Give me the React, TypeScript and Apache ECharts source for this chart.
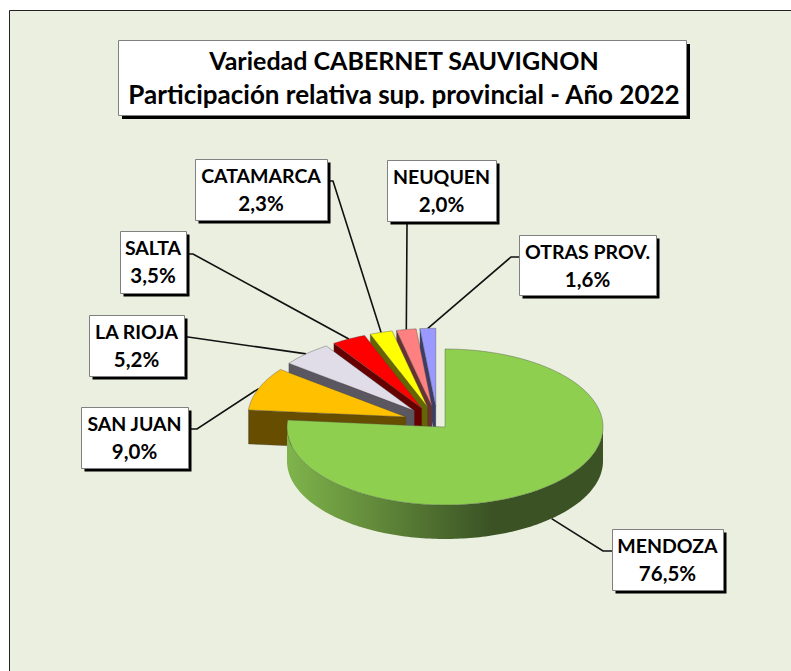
import React, { useEffect, useRef } from "react";
import * as echarts from "echarts";

const provinces = ["MENDOZA", "SAN JUAN", "LA RIOJA", "SALTA", "CATAMARCA", "NEUQUEN", "OTRAS PROV."];
const shares = [76.5, 9.0, 5.2, 3.5, 2.3, 2.0, 1.6];
const titleLines = ["Variedad CABERNET SAUVIGNON", "Participación relativa sup. provincial - Año 2022"];

const topColors = ["#8FCF50", "#FFC000", "#E0DCE8", "#FF0000", "#FFFF00", "#FF8080", "#9999FF"];
const wallColors = ["#4F7330", "#664D00", "#5A5760", "#660000", "#666600", "#663333", "#3D3D66"];
// label boxes: x, y, w, h
const boxes = [
  [612, 529, 111, 61],
  [81, 407, 107, 61],
  [89, 315, 95, 61],
  [120, 231, 66, 62],
  [195, 159, 132, 61],
  [387, 160, 109, 61],
  [519, 235, 137, 60],
];
// leader elbow: start on box, knee
const elbows = [
  [[612, 551], [603, 551]],
  [[188, 429], [197, 429]],
  [[184, 337], [188, 337]],
  [[186, 254], [193, 254]],
  [[327, 181], [333, 181]],
  [[407, 221], [407, 225]],
  [[519, 257], [511, 257]],
];

const CX = 445, CY = 427, RX = 158, RY = 78, DEPTH = 34;
const EXPLODE = 0.215, SHIFT_X = -7.5, SHIFT_Y = -4;
const total = shares.reduce((a, b) => a + b, 0);

function geom(i: number) {
  let before = 0;
  for (let k = 0; k < i; k++) before += shares[k];
  const a0 = (before / total) * Math.PI * 2;
  const a1 = ((before + shares[i]) / total) * Math.PI * 2;
  const mid = (a0 + a1) / 2;
  const ax = i === 0 ? CX : CX + SHIFT_X + EXPLODE * RX * Math.sin(mid);
  const ay = i === 0 ? CY : CY + SHIFT_Y - EXPLODE * RY * Math.cos(mid);
  return { a0, a1, mid, ax, ay };
}
const pt = (ax: number, ay: number, a: number, dy = 0) => [ax + RX * Math.sin(a), ay - RY * Math.cos(a) + dy];
function arc(ax: number, ay: number, a0: number, a1: number, dy = 0) {
  const n = Math.max(4, Math.ceil(Math.abs(a1 - a0) / 0.02));
  const out: number[][] = [];
  for (let k = 0; k <= n; k++) out.push(pt(ax, ay, a0 + ((a1 - a0) * k) / n, dy));
  return out;
}
const fmt = (v: number) => v.toFixed(1).replace(".", ",") + "%";
const EDGE = "rgba(70,70,70,0.55)";

function sliceElements(i: number) {
  const { a0, a1, ax, ay } = geom(i);
  const children: any[] = [];
  if (i === 0) {
    const from = Math.PI / 2;
    const to = Math.min(a1, (3 * Math.PI) / 2);
    const outer = arc(ax, ay, from, to, 0);
    const lower = arc(ax, ay, to, from, DEPTH);
    children.push({
      type: "polygon",
      shape: { points: [...outer, ...lower] },
      style: {
        fill: new echarts.graphic.LinearGradient(1, 0, 0, 0, [
          { offset: 0, color: "#3A5224" },
          { offset: 0.35, color: "#3A5224" },
          { offset: 1, color: "#7FB44B" },
        ]),
        stroke: "none",
      },
    });
  } else {
    const s = pt(ax, ay, a0);
    children.push({
      type: "polygon",
      shape: { points: [s, [ax, ay], [ax, ay + DEPTH], [s[0], s[1] + DEPTH]] },
      style: { fill: wallColors[i], stroke: EDGE, lineWidth: 0.6 },
    });
  }
  children.push({
    type: "polygon",
    shape: { points: [[ax, ay], ...arc(ax, ay, a0, a1)] },
    style: { fill: topColors[i], stroke: EDGE, lineWidth: 0.7 },
  });
  return children;
}

function leaderEnd(i: number) {
  const { mid, ax, ay } = geom(i);
  return pt(ax, ay, mid, i === 0 ? DEPTH : 0);
}

export default function App() {
  const ref = useRef<HTMLDivElement>(null);
  useEffect(() => {
    document.body.style.margin = "0";
    const chart = echarts.init(ref.current!, undefined, { renderer: "svg" });
    const idx = provinces.map((_, i) => [i]);
    const titleFont = { fontFamily: "Lato", fontWeight: "bold", lineHeight: 34, color: "#000" };
    chart.setOption({
      animation: false,
      backgroundColor: "#ffffff",
      title: {
        text: `{a|${titleLines[0]}}\n{b|${titleLines[1]}}`,
        left: 399,
        top: 38,
        textAlign: "center",
        z: 20,
        textStyle: {
          ...titleFont,
          fontSize: 26,
          rich: { a: { ...titleFont, fontSize: 25 }, b: { ...titleFont, fontSize: 26 } },
        },
      },
      graphic: [
        { type: "rect", z: -1, shape: { x: 9.5, y: 10.5, width: 800, height: 680 }, style: { fill: "#EBEFDF", stroke: "#222", lineWidth: 1 } },
        { type: "rect", z: 1, shape: { x: 122, y: 44, width: 568, height: 75 }, style: { fill: "#000" } },
        { type: "rect", z: 1, shape: { x: 118.5, y: 40.5, width: 568, height: 75 }, style: { fill: "#fff", stroke: "#808080", lineWidth: 1 } },
      ],
      series: [
        {
          type: "custom",
          coordinateSystem: "none",
          silent: true,
          z: 2,
          data: idx,
          renderItem: (_: any, api: any) => {
            const i = api.value(0);
            return {
              type: "polyline",
              shape: { points: [...elbows[i], leaderEnd(i)] },
              style: { fill: "none", stroke: "#111", lineWidth: 1.6 },
            };
          },
        },
        {
          type: "custom",
          coordinateSystem: "none",
          silent: true,
          z: 3,
          data: [...idx].reverse(),
          renderItem: (_: any, api: any) => ({ type: "group", children: sliceElements(api.value(0)) }),
        },
        {
          type: "custom",
          coordinateSystem: "none",
          silent: true,
          z: 4,
          data: idx,
          renderItem: (_: any, api: any) => {
            const i = api.value(0);
            const [x, y, w, h] = boxes[i];
            const font = { fontFamily: "Lato", fontWeight: "bold", fill: "#000", align: "center", verticalAlign: "middle" };
            return {
              type: "group",
              children: [
                { type: "rect", shape: { x: x + 3.5, y: y + 3.5, width: w, height: h }, style: { fill: "#000" } },
                { type: "rect", shape: { x: x + 0.5, y: y + 0.5, width: w, height: h }, style: { fill: "#fff", stroke: "#808080", lineWidth: 1 } },
                { type: "text", x: x + w / 2, y: y + 16, style: { ...font, fontSize: 19.5, text: provinces[i] } },
                { type: "text", x: x + w / 2, y: y + 44, style: { ...font, fontSize: 20.5, text: fmt(shares[i]) } },
              ],
            };
          },
        },
      ],
    });
    return () => chart.dispose();
  }, []);
  return <div ref={ref} style={{ width: 791, height: 671 }} />;
}
